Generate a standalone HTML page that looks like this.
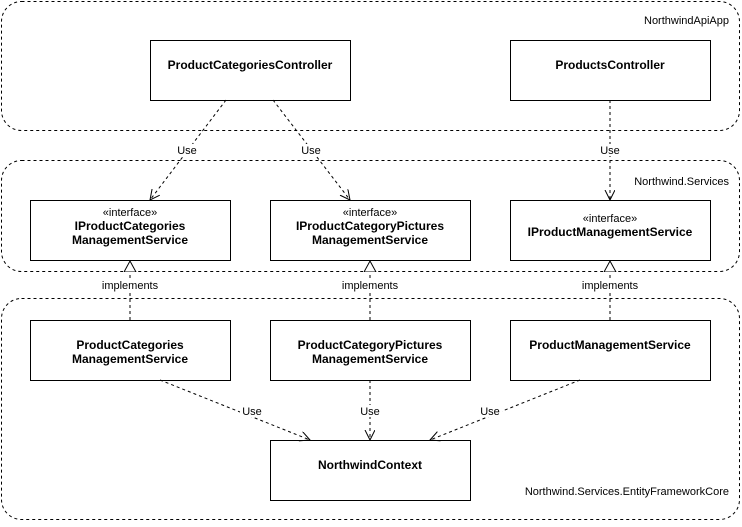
<!DOCTYPE html>
<html><head><style>body{margin:0;background:#fff}</style></head><body>
<svg width="742" height="522" xmlns="http://www.w3.org/2000/svg" font-family="Liberation Sans, Arial, sans-serif" font-size="11">
<defs>
<marker id="op" markerWidth="12" markerHeight="12" refX="10" refY="5" orient="auto" markerUnits="userSpaceOnUse"><path d="M0,0 L10,5 L0,10" fill="none" stroke="#000"/></marker>
<marker id="tri" markerWidth="14" markerHeight="14" refX="11" refY="6" orient="auto" markerUnits="userSpaceOnUse"><path d="M0,0 L11,6 L0,12 Z" fill="#fff" stroke="#000"/></marker>
</defs>
<g fill="none" stroke="#000" stroke-dasharray="3,3">
<rect x="1.5" y="1.5" width="738" height="129" rx="20"/>
<rect x="1.5" y="160.5" width="738" height="111" rx="20"/>
<rect x="1.5" y="298.5" width="738" height="221" rx="20"/>
</g>
<g fill="#000" text-anchor="end" font-size="11">
<text x="729" y="24">NorthwindApiApp</text>
<text x="729" y="185">Northwind.Services</text>
<text x="729" y="495">Northwind.Services.EntityFrameworkCore</text>
</g>
<g fill="#fff" stroke="#000">
<rect x="150.5" y="40.5" width="200" height="60"/>
<rect x="510.5" y="40.5" width="200" height="60"/>
<rect x="30.5" y="200.5" width="200" height="60"/>
<rect x="270.5" y="200.5" width="200" height="60"/>
<rect x="510.5" y="200.5" width="200" height="60"/>
<rect x="30.5" y="320.5" width="200" height="60"/>
<rect x="270.5" y="320.5" width="200" height="60"/>
<rect x="510.5" y="320.5" width="200" height="60"/>
<rect x="270.5" y="440.5" width="200" height="60"/>
</g>
<g fill="#000" text-anchor="middle" font-weight="bold" font-size="12">
<text x="250" y="69">ProductCategoriesController</text>
<text x="610" y="69">ProductsController</text>
<text x="130" y="230">IProductCategories</text><text x="130" y="244">ManagementService</text>
<text x="370" y="230">IProductCategoryPictures</text><text x="370" y="244">ManagementService</text>
<text x="610" y="236">IProductManagementService</text>
<text x="130" y="349">ProductCategories</text><text x="130" y="363">ManagementService</text>
<text x="370" y="349">ProductCategoryPictures</text><text x="370" y="363">ManagementService</text>
<text x="610" y="349">ProductManagementService</text>
<text x="370" y="469">NorthwindContext</text>
</g>
<g fill="#000" text-anchor="middle" font-size="11">
<text x="130" y="216">«interface»</text>
<text x="370" y="216">«interface»</text>
<text x="610" y="222">«interface»</text>
</g>
<g stroke="#000" fill="none" stroke-dasharray="3,3">
<line x1="226" y1="100" x2="150" y2="200" marker-end="url(#op)"/>
<line x1="273" y1="100" x2="350" y2="200" marker-end="url(#op)"/>
<line x1="610" y1="100" x2="610" y2="200" marker-end="url(#op)"/>
<line x1="130" y1="320" x2="130" y2="261" marker-end="url(#tri)"/>
<line x1="370" y1="320" x2="370" y2="261" marker-end="url(#tri)"/>
<line x1="610" y1="320" x2="610" y2="261" marker-end="url(#tri)"/>
<line x1="160" y1="380" x2="310" y2="440" marker-end="url(#op)"/>
<line x1="370" y1="380" x2="370" y2="440" marker-end="url(#op)"/>
<line x1="580" y1="380" x2="430" y2="440" marker-end="url(#op)"/>
</g>
<g font-size="11" text-anchor="middle">
<g fill="#fff"><rect x="175" y="144" width="24" height="12"/><rect x="299" y="144" width="24" height="12"/><rect x="598" y="144" width="24" height="12"/>
<rect x="100" y="279" width="60" height="12"/><rect x="340" y="279" width="60" height="12"/><rect x="580" y="279" width="60" height="12"/>
<rect x="240" y="405" width="24" height="12"/><rect x="358" y="405" width="24" height="12"/><rect x="478" y="405" width="24" height="12"/></g>
<g fill="#000">
<text x="187" y="154">Use</text><text x="311" y="154">Use</text><text x="610" y="154">Use</text>
<text x="130" y="289">implements</text><text x="370" y="289">implements</text><text x="610" y="289">implements</text>
<text x="252" y="415">Use</text><text x="370" y="415">Use</text><text x="490" y="415">Use</text>
</g></g>
</svg>
</body></html>
